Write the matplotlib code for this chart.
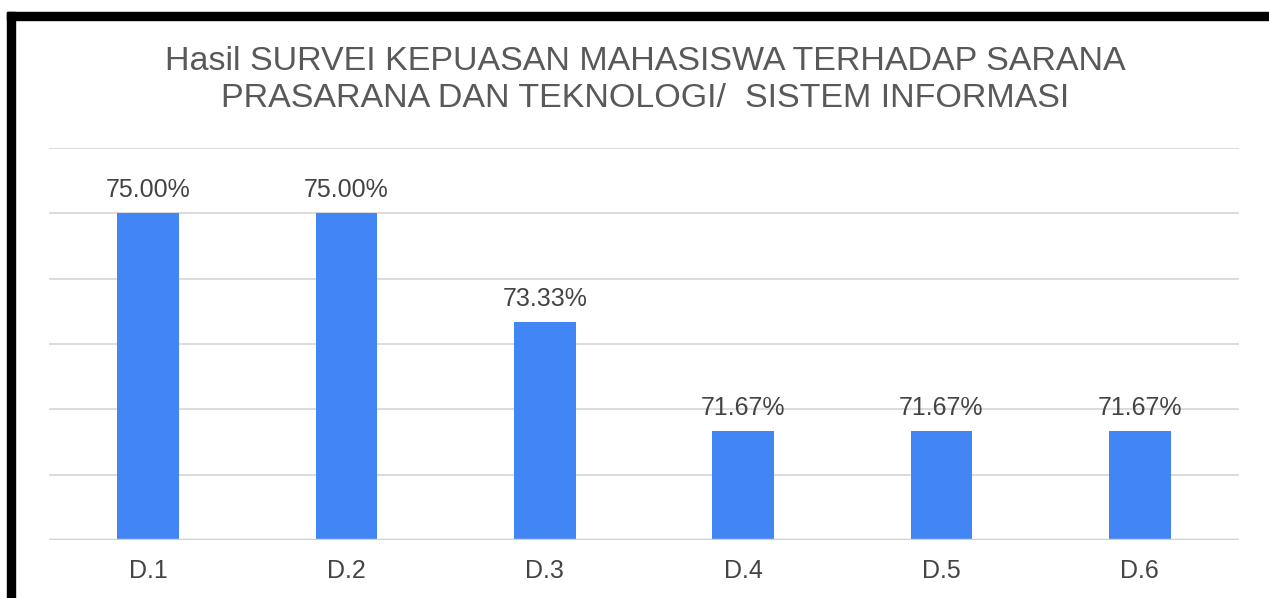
import matplotlib.pyplot as plt
from matplotlib.patches import Rectangle

categories = ['D.1', 'D.2', 'D.3', 'D.4', 'D.5', 'D.6']
values = [75.00, 75.00, 73.33, 71.67, 71.67, 71.67]
title = 'Hasil SURVEI KEPUASAN MAHASISWA TERHADAP SARANA\nPRASARANA DAN TEKNOLOGI/  SISTEM INFORMASI'

plt.rcParams['font.family'] = ['Liberation Sans', 'DejaVu Sans']

fig = plt.figure(figsize=(12.69, 5.98), dpi=100)
W, H = 1269, 598
ax = fig.add_axes([49 / W, 1 - 540 / H, (1239 - 49) / W, (540 - 148) / H])

x = list(range(len(categories)))
bars = ax.bar(x, values, width=0.31, color='#4285F4', zorder=3)
for xi, v in zip(x, values):
    ax.text(xi, v + 0.17, f'{v:.2f}%', ha='center', va='bottom',
            fontsize=18, color='#444444')

ax.set_ylim(70, 76)
ax.set_xlim(-0.5, len(categories) - 0.5)
ax.set_yticks(range(70, 77))
ax.yaxis.grid(True, color='#d9d9d9', linewidth=1.3)
ax.tick_params(axis='y', left=False, labelleft=False)
ax.tick_params(axis='x', length=0, pad=14, labelsize=18, labelcolor='#444444')
ax.set_xticks(x)
ax.set_xticklabels(categories)
for s in ax.spines.values():
    s.set_visible(False)
ax.axhline(70, color='#d0d0d0', linewidth=2.5, zorder=4)

fig.text(645 / W, 1 - 80 / H, title, ha='center', va='center',
         fontsize=24.5, color='#595959', linespacing=1.22)

# black frame on top and left
fig.patches.append(Rectangle((7 / W, 0), 8 / W, 1 - 12 / H, transform=fig.transFigure,
                             color='black', zorder=10))
fig.patches.append(Rectangle((7 / W, 1 - 20 / H), 1 - 7 / W, 8 / H, transform=fig.transFigure,
                             color='black', zorder=10))

fig.savefig('out.png', dpi=100)
